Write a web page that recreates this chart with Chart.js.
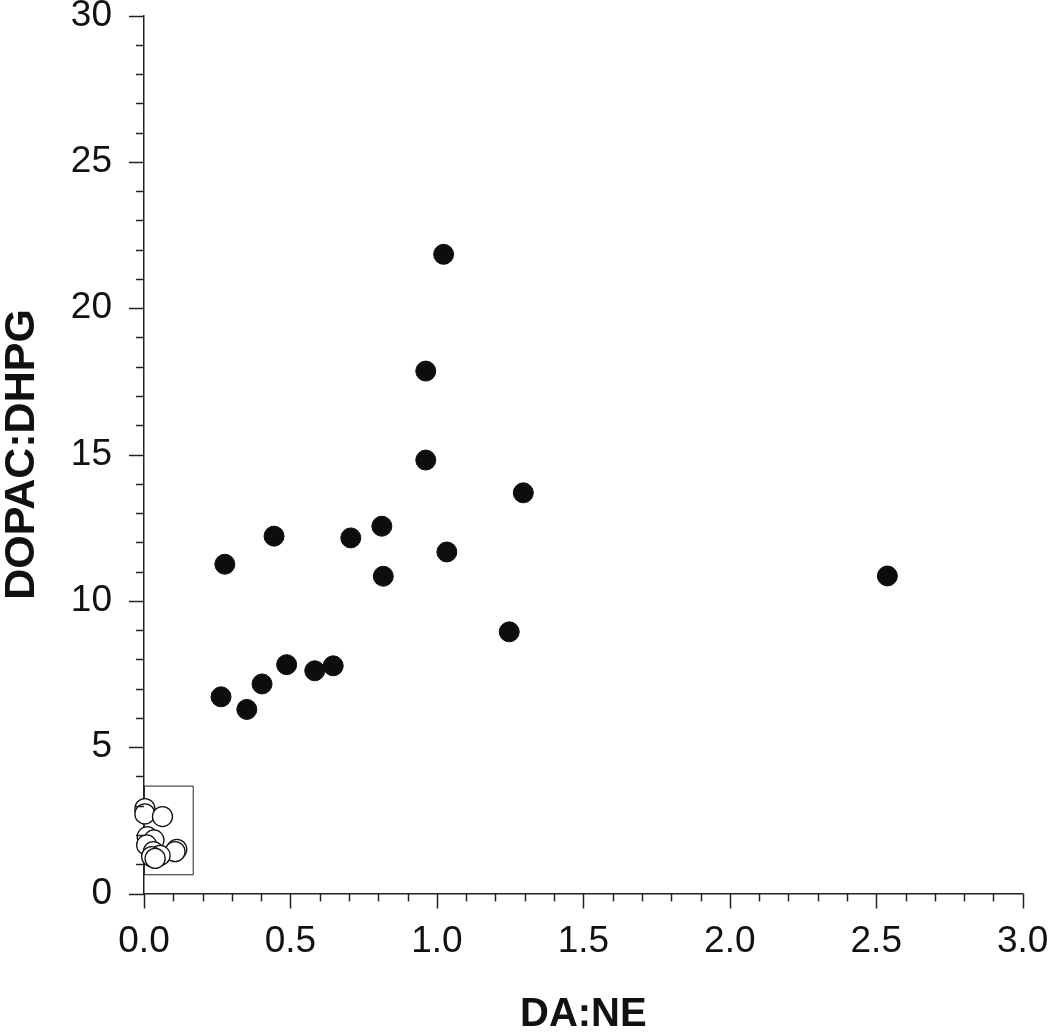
<!DOCTYPE html>
<html>
<head>
<meta charset="utf-8">
<script src="https://cdn.jsdelivr.net/npm/chart.js@4/dist/chart.umd.min.js"></script>
<style>
  html, body { margin: 0; padding: 0; background: #fff; }
  #chart { display: block; }
</style>
</head>
<body>
<canvas id="chart" width="1050" height="1033"></canvas>
<script>
// DA:NE vs DOPAC:DHPG, filled group
const filledX = [1.023, 0.962, 0.962, 1.295, 1.034, 1.247, 0.276, 0.444, 0.706,
                 0.812, 0.817, 0.487, 0.583, 0.646, 0.403, 0.263, 0.351, 2.538];
const filledY = [21.84, 17.85, 14.81, 13.69, 11.67, 8.94, 11.25, 12.21, 12.15,
                 12.55, 10.84, 7.82, 7.61, 7.78, 7.16, 6.72, 6.29, 10.85];

// open group (clustered near the origin)
const openX = [0.003, 0.003, 0.063, 0.011, 0.034, 0.009, 0.112, 0.106, 0.032, 0.055, 0.026, 0.038];
const openY = [2.90, 2.72, 2.63, 1.94, 1.83, 1.66, 1.51, 1.43, 1.43, 1.30, 1.26, 1.20];

// rectangle drawn round the open group
const boxX = [0, 0.168, 0.168, 0, 0];
const boxY = [0.64, 0.64, 3.67, 3.67, 0.64];

const xTitle = 'DA:NE';
const yTitle = 'DOPAC:DHPG';

const fontFamily = '"Liberation Sans", Arial, Helvetica, sans-serif';

function toPoints(xs, ys) {
    return xs.map((x, i) => ({ x: x, y: ys[i] }));
}

function isMultiple(v, step) {
    const r = v / step;
    return Math.abs(r - Math.round(r)) < 1e-6;
}

// major / minor tick marks pointing outwards
const tickMarks = {
    id: 'tickMarks',
    afterDraw(chart) {
        const ctx = chart.ctx;
        const xs = chart.scales.x;
        const ys = chart.scales.y;
        ctx.save();
        ctx.strokeStyle = '#222';
        ctx.lineWidth = 1.5;
        xs.ticks.forEach(t => {
            const px = Math.round(xs.getPixelForValue(t.value)) + 0.5;
            const len = isMultiple(t.value, 0.5) ? 15 : 8;
            ctx.beginPath();
            ctx.moveTo(px, xs.top);
            ctx.lineTo(px, xs.top + len);
            ctx.stroke();
        });
        ys.ticks.forEach(t => {
            const py = Math.round(ys.getPixelForValue(t.value)) + 0.5;
            const len = isMultiple(t.value, 5) ? 15 : 8;
            ctx.beginPath();
            ctx.moveTo(ys.right, py);
            ctx.lineTo(ys.right - len, py);
            ctx.stroke();
        });
        ctx.restore();
    }
};

new Chart(document.getElementById('chart'), {
    type: 'scatter',
    data: {
        datasets: [
            {
                label: 'box',
                type: 'line',
                data: toPoints(boxX, boxY),
                showLine: true,
                fill: false,
                borderColor: '#222',
                borderWidth: 1,
                pointRadius: 0,
                tension: 0,
                clip: false,
                order: 3
            },
            {
                label: 'open',
                data: toPoints(openX, openY),
                backgroundColor: '#fff',
                borderColor: '#111',
                borderWidth: 1.3,
                pointRadius: 10,
                clip: false,
                order: 2
            },
            {
                label: 'filled',
                data: toPoints(filledX, filledY),
                backgroundColor: '#0d0d0d',
                borderColor: '#0d0d0d',
                borderWidth: 1,
                pointRadius: 10,
                clip: false,
                order: 1
            }
        ]
    },
    options: {
        responsive: false,
        animation: false,
        devicePixelRatio: 1,
        layout: { padding: { top: 15.5, right: 27.3, bottom: 0, left: 0 } },
        plugins: {
            legend: { display: false },
            tooltip: { enabled: false }
        },
        scales: {
            x: {
                type: 'linear',
                min: 0,
                max: 3,
                afterFit(scale) { scale.height = 139.5; },
                border: { display: true, color: '#222', width: 1.5 },
                grid: {
                    display: true,
                    drawOnChartArea: false,
                    drawTicks: true,
                    tickLength: 33,
                    tickColor: 'rgba(0,0,0,0)'
                },
                ticks: {
                    stepSize: 0.1,
                    autoSkip: false,
                    maxRotation: 0,
                    padding: 0,
                    color: '#111',
                    font: { family: fontFamily, size: 37, lineHeight: 0.8 },
                    callback: v => isMultiple(v, 0.5) ? v.toFixed(1) : ''
                },
                title: {
                    display: true,
                    text: xTitle,
                    color: '#111',
                    padding: 0,
                    font: { family: fontFamily, size: 40, weight: 'bold', lineHeight: 0.9 }
                }
            },
            y: {
                type: 'linear',
                min: 0,
                max: 30,
                afterFit(scale) { scale.width = 144; },
                border: { display: true, color: '#222', width: 1.5 },
                grid: {
                    display: true,
                    drawOnChartArea: false,
                    drawTicks: true,
                    tickLength: 32,
                    tickColor: 'rgba(0,0,0,0)'
                },
                ticks: {
                    stepSize: 1,
                    autoSkip: false,
                    padding: 0,
                    color: '#111',
                    font: { family: fontFamily, size: 37, lineHeight: 0.8 },
                    callback: v => isMultiple(v, 5) ? String(v) : ''
                },
                title: {
                    display: true,
                    text: yTitle,
                    color: '#111',
                    padding: 1,
                    font: { family: fontFamily, size: 43, weight: 'bold', lineHeight: 1 }
                }
            }
        }
    },
    plugins: [tickMarks]
});
</script>
</body>
</html>
